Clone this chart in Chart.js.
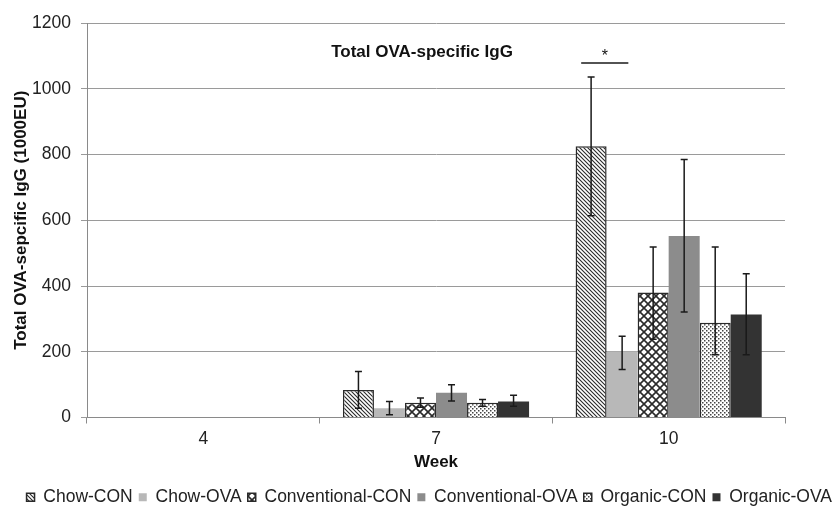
<!DOCTYPE html>
<html><head><meta charset="utf-8">
<script src="https://cdn.jsdelivr.net/npm/chart.js@4.4.0/dist/chart.umd.min.js"></script>
<style>html,body{margin:0;padding:0;background:#fff}#wrap{width:838px;height:508px;position:relative}</style>
</head><body><div id="wrap"><canvas id="c"></canvas></div>
<script>
// ---- data ----
const weeks = ['4', '7', '10'];
const seriesNames = ['Chow-CON', 'Chow-OVA', 'Conventional-CON', 'Conventional-OVA', 'Organic-CON', 'Organic-OVA'];
const chowCON      = [null, 84, 825];
const chowCONLow   = [null, 28, 614];
const chowCONHigh  = [null, 140, 1036];
const chowOVA      = [null, 28, 201];
const chowOVALow   = [null, 8, 146];
const chowOVAHigh  = [null, 49, 247];
const convCON      = [null, 45, 380];
const convCONLow   = [null, 31, 238];
const convCONHigh  = [null, 59, 519];
const convOVA      = [null, 75, 552];
const convOVALow   = [null, 50, 321];
const convOVAHigh  = [null, 100, 785];
const orgCON       = [null, 45, 288];
const orgCONLow    = [null, 34, 191];
const orgCONHigh   = [null, 55, 519];
const orgOVA       = [null, 49, 313];
const orgOVALow    = [null, 34, 191];
const orgOVAHigh   = [null, 68, 437];
const yTicks = [0, 200, 400, 600, 800, 1000, 1200];
const sigLevel = 1078;   // value level of the significance bracket
const sigText = '*';

// ---- patterns ----
function makePattern(size, draw) {
  const c = document.createElement('canvas');
  c.width = size; c.height = size;
  const g = c.getContext('2d');
  g.fillStyle = '#fff'; g.fillRect(0, 0, size, size);
  draw(g, size);
  return document.createElement('canvas').getContext('2d').createPattern(c, 'repeat');
}
const diagPattern = makePattern(4, (g, s) => {
  g.strokeStyle = '#2a2a2a'; g.lineWidth = 1.1;
  g.beginPath();
  g.moveTo(-1, -1); g.lineTo(s + 1, s + 1);
  g.moveTo(-1, s - 1); g.lineTo(1, s + 1);
  g.moveTo(s - 1, -1); g.lineTo(s + 1, 1);
  g.stroke();
});
const crossPattern = makePattern(8, (g, s) => {
  g.strokeStyle = '#2a2a2a'; g.lineWidth = 1.6;
  g.beginPath();
  g.moveTo(-1, -1); g.lineTo(s + 1, s + 1);
  g.moveTo(-1, s + 1); g.lineTo(s + 1, -1);
  g.stroke();
});
const dotPattern = makePattern(4, (g, s) => {
  g.fillStyle = '#444';
  g.fillRect(0, 0, 1.5, 1.5);
  g.fillRect(2, 2, 1.5, 1.5);
});

const FONT = "'Liberation Sans', Arial, Helvetica, sans-serif";

const datasets = [
  { label: seriesNames[0], data: chowCON, errLow: chowCONLow, errHigh: chowCONHigh, backgroundColor: diagPattern, borderColor: '#2a2a2a', borderWidth: 1.5 },
  { label: seriesNames[1], data: chowOVA, errLow: chowOVALow, errHigh: chowOVAHigh, backgroundColor: '#b8b8b8', borderColor: '#b8b8b8', borderWidth: 0 },
  { label: seriesNames[2], data: convCON, errLow: convCONLow, errHigh: convCONHigh, backgroundColor: crossPattern, borderColor: '#2a2a2a', borderWidth: 1.5 },
  { label: seriesNames[3], data: convOVA, errLow: convOVALow, errHigh: convOVAHigh, backgroundColor: '#8c8c8c', borderColor: '#8c8c8c', borderWidth: 0 },
  { label: seriesNames[4], data: orgCON, errLow: orgCONLow, errHigh: orgCONHigh, backgroundColor: dotPattern, borderColor: '#2a2a2a', borderWidth: 1.5 },
  { label: seriesNames[5], data: orgOVA, errLow: orgOVALow, errHigh: orgOVAHigh, backgroundColor: '#333333', borderColor: '#333333', borderWidth: 0 }
];

const errorBarPlugin = {
  id: 'errorBars',
  afterDatasetsDraw(chart) {
    const ctx = chart.ctx, ys = chart.scales.y, cap = 3.5;
    chart.data.datasets.forEach((ds, i) => {
      const meta = chart.getDatasetMeta(i);
      if (meta.hidden) return;
      meta.data.forEach((bar, j) => {
        const lo = ds.errLow[j], hi = ds.errHigh[j];
        if (lo == null || hi == null || ds.data[j] == null) return;
        const x = bar.x, yl = ys.getPixelForValue(lo), yh = ys.getPixelForValue(hi);
        ctx.save();
        ctx.strokeStyle = '#1a1a1a'; ctx.lineWidth = 1.5;
        ctx.beginPath();
        ctx.moveTo(x, yl); ctx.lineTo(x, yh);
        ctx.moveTo(x - cap, yl); ctx.lineTo(x + cap, yl);
        ctx.moveTo(x - cap, yh); ctx.lineTo(x + cap, yh);
        ctx.stroke();
        ctx.restore();
      });
    });
  }
};

const annotationPlugin = {
  id: 'annot',
  afterDatasetsDraw(chart) {
    const ctx = chart.ctx, ys = chart.scales.y, ca = chart.chartArea;
    // inner title
    ctx.save();
    ctx.fillStyle = '#111';
    ctx.font = "bold 17px " + FONT;
    ctx.textAlign = 'center'; ctx.textBaseline = 'middle';
    ctx.fillText('Total OVA-specific IgG', ca.left + (ca.right - ca.left) * 0.48, ca.top + 29);
    // significance bracket between Chow-CON and Chow-OVA at week 10
    const b0 = chart.getDatasetMeta(0).data[2], b1 = chart.getDatasetMeta(1).data[2];
    const yl = ys.getPixelForValue(sigLevel);
    const x0 = b0.x - b0.width * 0.32, x1 = b1.x + b1.width * 0.2;
    ctx.strokeStyle = '#1a1a1a'; ctx.lineWidth = 1.5;
    ctx.beginPath(); ctx.moveTo(x0, yl); ctx.lineTo(x1, yl); ctx.stroke();
    ctx.font = "16px " + FONT;
    ctx.textBaseline = 'alphabetic';
    ctx.fillText(sigText, (x0 + x1) / 2, yl - 2.5);
    ctx.restore();
  }
};

new Chart(document.getElementById('c'), {
  type: 'bar',
  data: { labels: weeks, datasets },
  plugins: [errorBarPlugin, annotationPlugin],
  options: {
    responsive: true,
    maintainAspectRatio: false,
    animation: false,
    layout: { padding: { top: 23, left: 0, right: 0, bottom: -8 } },
    datasets: { bar: { categoryPercentage: 0.8, barPercentage: 1.0 } },
    plugins: {
      title: { display: false },
      tooltip: { enabled: false },
      legend: {
        position: 'bottom',
        align: 'end',
        labels: {
          boxWidth: 8, boxHeight: 8, padding: 6,
          color: '#222',
          font: { family: FONT, size: 17.5 }
        }
      }
    },
    scales: {
      x: {
        offset: true,
        grid: { display: true, drawOnChartArea: false, drawTicks: true, tickLength: 6, color: '#8a8a8a', offset: true },
        border: { display: true, color: '#8a8a8a', width: 1 },
        ticks: { color: '#222', font: { family: FONT, size: 17.5 }, padding: 5 },
        title: { display: true, text: 'Week', color: '#111', font: { family: FONT, size: 17, weight: 'bold' }, padding: { top: 10, bottom: 10 } },
        afterFit(s) { s.height = 65; }
      },
      y: {
        min: 0, max: 1200,
        afterBuildTicks(s) { s.ticks = yTicks.map(v => ({ value: v })); },
        grid: { color: '#9a9a9a', lineWidth: 1, tickLength: 6 },
        border: { display: true, color: '#8a8a8a', width: 1 },
        ticks: { color: '#222', font: { family: FONT, size: 17.5 }, padding: 10, callback: v => String(v) },
        title: { display: true, text: 'Total OVA-sepcific IgG (1000EU)', color: '#111', font: { family: FONT, size: 17, weight: 'bold' }, padding: { top: 11, bottom: 11 } },
        afterFit(s) { s.width = 87; }
      },
      yRight: {
        position: 'right',
        display: true,
        grid: { display: false, drawTicks: false },
        border: { display: false },
        ticks: { display: false },
        afterFit(s) { s.width = 53; }
      }
    }
  }
});
</script>
</body></html>
